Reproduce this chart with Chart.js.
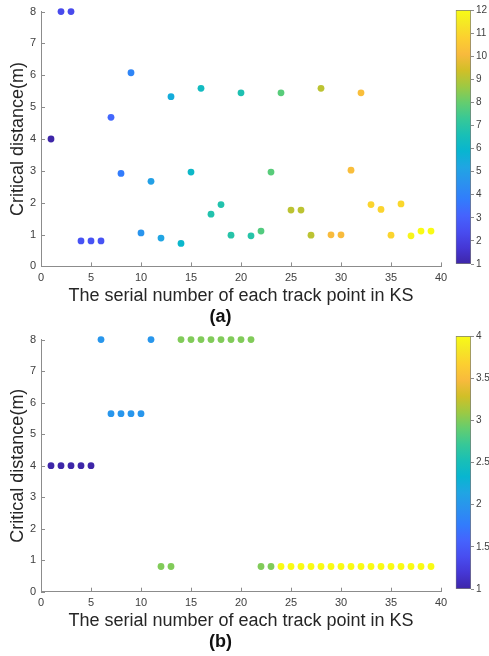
<!DOCTYPE html>
<html>
<head>
<meta charset="utf-8">
<script src="https://cdn.jsdelivr.net/npm/chart.js@4.4.1/dist/chart.umd.min.js"></script>
<style>
  html, body { margin: 0; padding: 0; background: #fff; }
  #wrap { position: relative; width: 489px; height: 656px; }
  canvas { position: absolute; }
</style>
</head>
<body>
<div id="wrap">
  <canvas id="plotA" width="489" height="328" style="left:0;top:0"></canvas>
  <canvas id="barA" width="49" height="328" style="left:440px;top:0"></canvas>
  <canvas id="plotB" width="489" height="328" style="left:0;top:328px"></canvas>
  <canvas id="barB" width="49" height="328" style="left:440px;top:328px"></canvas>
</div>
<script>
// track point serial numbers (shared x values)
const trackNo = [1, 2, 3, 4, 5, 6, 7, 8, 9, 10, 11, 12, 13, 14, 15, 16, 17, 18, 19, 20,
  21, 22, 23, 24, 25, 26, 27, 28, 29, 30, 31, 32, 33, 34, 35, 36, 37, 38, 39];

// (a) critical distance and colour value per point
const distA = [4, 8, 8, 0.8, 0.8, 0.8, 4.68, 2.92, 6.08, 1.05, 2.67, 0.89, 5.33, 0.72, 2.96, 5.59,
  1.64, 1.94, 0.98, 5.45, 0.96, 1.11, 2.96, 5.45, 1.77, 1.77, 0.98, 5.59, 0.99, 0.99, 3.02, 5.45,
  1.94, 1.79, 0.98, 1.96, 0.96, 1.11, 1.11];
const colorA = [1, 2.3, 2.3, 2.6, 2.6, 2.6, 3.2, 3.8, 4.1, 4.6, 5, 5.2, 5.5, 6, 6.1, 6.3,
  6.8, 6.8, 6.9, 6.7, 6.9, 7.7, 7.8, 7.8, 9.1, 9.1, 9.1, 9.1, 10.1, 10.1, 10.2, 10.2,
  10.9, 10.9, 10.9, 11, 11.8, 12, 12];

// (b) critical distance and colour value per point
const distB = [4, 4, 4, 4, 4, 8, 5.65, 5.65, 5.65, 5.65, 8, 0.8, 0.8, 8, 8, 8, 8, 8, 8, 8,
  8, 0.8, 0.8, 0.8, 0.8, 0.8, 0.8, 0.8, 0.8, 0.8, 0.8, 0.8, 0.8, 0.8, 0.8, 0.8, 0.8, 0.8, 0.8];
const colorB = [1, 1, 1, 1, 1, 2, 2, 2, 2, 2, 2, 3, 3, 3, 3, 3, 3, 3, 3, 3,
  3, 3, 3, 4, 4, 4, 4, 4, 4, 4, 4, 4, 4, 4, 4, 4, 4, 4, 4];

const rangeA = [1, 12];
const rangeB = [1, 4];

const xTitle = 'The serial number of each track point in KS';
const yTitle = 'Critical distance(m)';

const axisColor = '#8c8c8c';
const textColor = '#404040';
const family = '"Liberation Sans", Arial, sans-serif';

// parula colormap sampled every 4th row
const parula = [
  [62, 38, 168], [69, 55, 213], [72, 77, 240], [69, 99, 253], [50, 124, 252],
  [43, 145, 239], [32, 165, 227], [8, 181, 208], [25, 191, 182], [55, 200, 151],
  [100, 205, 111], [157, 201, 67], [209, 191, 39], [248, 186, 61], [252, 207, 48],
  [245, 233, 36], [249, 251, 21]
];
const parulaPos = [0, 4, 8, 12, 16, 20, 24, 28, 32, 36, 40, 44, 48, 52, 56, 60, 63].map(v => v / 63);

function parulaAt(t) {
  t = Math.min(1, Math.max(0, t));
  let i = 0;
  while (i < parulaPos.length - 2 && t > parulaPos[i + 1]) i++;
  const f = (t - parulaPos[i]) / (parulaPos[i + 1] - parulaPos[i]);
  const c = parula[i].map((v, k) => Math.round(v + (parula[i + 1][k] - v) * f));
  return `rgb(${c[0]},${c[1]},${c[2]})`;
}

// short tick marks pointing into the plot, MATLAB style
const innerTicks = {
  id: 'innerTicks',
  afterDraw(chart) {
    const { ctx, chartArea: a, scales: { x, y } } = chart;
    ctx.save();
    ctx.strokeStyle = axisColor;
    ctx.lineWidth = 1;
    ctx.beginPath();
    x.ticks.forEach((t, i) => {
      const px = Math.round(x.getPixelForTick(i)) + 0.5;
      ctx.moveTo(px, a.bottom);
      ctx.lineTo(px, a.bottom - 4);
    });
    y.ticks.forEach((t, i) => {
      const py = Math.round(y.getPixelForTick(i)) + 0.5;
      ctx.moveTo(a.left, py);
      ctx.lineTo(a.left + 4, py);
    });
    ctx.stroke();
    ctx.restore();
  }
};

function makePanel(id, dist, cval, range, label, padTop, padBottom) {
  const colors = cval.map(v => parulaAt((v - range[0]) / (range[1] - range[0])));
  new Chart(document.getElementById(id), {
    type: 'scatter',
    data: {
      datasets: [{
        data: trackNo.map((n, i) => ({ x: n, y: dist[i] })),
        pointBackgroundColor: colors,
        pointBorderWidth: 0,
        pointRadius: 3.4,
        pointHoverRadius: 3.4,
        clip: false
      }]
    },
    options: {
      responsive: false,
      animation: false,
      devicePixelRatio: 1,
      layout: { padding: { top: padTop, bottom: padBottom, left: 0, right: 48 } },
      plugins: {
        legend: { display: false },
        tooltip: { enabled: false },
        title: {
          display: true,
          position: 'bottom',
          text: label,
          color: '#111',
          font: { family, size: 18, weight: 'bold' },
          padding: 0
        }
      },
      scales: {
        x: {
          min: 0, max: 40,
          ticks: { stepSize: 5, color: textColor, font: { family, size: 11 }, padding: 5, maxRotation: 0 },
          grid: { display: false, drawTicks: false },
          border: { display: true, color: axisColor },
          title: { display: true, text: xTitle, color: '#262626', font: { family, size: 18 }, padding: 0 },
          afterFit(s) { s.height = 40; }
        },
        y: {
          min: 0, max: 8,
          ticks: { stepSize: 1, color: textColor, font: { family, size: 11 }, padding: 5 },
          grid: { display: false, drawTicks: false },
          border: { display: true, color: axisColor },
          title: { display: true, text: yTitle, color: '#262626', font: { family, size: 18 }, padding: { top: 7, bottom: 0 } },
          afterFit(s) { s.width = 41; }
        }
      }
    },
    plugins: [innerTicks]
  });
}

function makeColorbar(id, range, step, padTop, padBottom) {
  new Chart(document.getElementById(id), {
    type: 'bar',
    data: {
      labels: [''],
      datasets: [{
        data: [range],
        barPercentage: 1,
        categoryPercentage: 1,
        borderWidth: 1,
        borderColor: '#7a7a7a',
        borderSkipped: false,
        backgroundColor(ctx) {
          const a = ctx.chart.chartArea;
          if (!a) return '#888';
          const g = ctx.chart.ctx.createLinearGradient(0, a.bottom, 0, a.top);
          parula.forEach((c, i) => g.addColorStop(parulaPos[i], `rgb(${c[0]},${c[1]},${c[2]})`));
          return g;
        }
      }]
    },
    options: {
      responsive: false,
      animation: false,
      devicePixelRatio: 1,
      layout: { padding: { top: padTop, bottom: padBottom, left: 15.7, right: 0 } },
      plugins: { legend: { display: false }, tooltip: { enabled: false } },
      scales: {
        x: { display: false },
        y: {
          position: 'right',
          min: range[0], max: range[1],
          ticks: {
            stepSize: step, color: textColor, font: { family, size: 10 }, padding: 2,
            callback: v => String(+v.toFixed(2))
          },
          grid: { drawOnChartArea: false, drawTicks: true, tickLength: 3, color: axisColor },
          border: { display: false },
          afterFit(s) { s.width = 18; }
        }
      }
    }
  });
}

makePanel('plotA', distA, colorA, rangeA, '(a)', 9.3, 0);
makeColorbar('barA', rangeA, 1, 10, 64);
makePanel('plotB', distB, colorB, rangeB, '(b)', 6.3, 2.7);
makeColorbar('barB', rangeB, 0.5, 6, 67);
</script>
</body>
</html>
